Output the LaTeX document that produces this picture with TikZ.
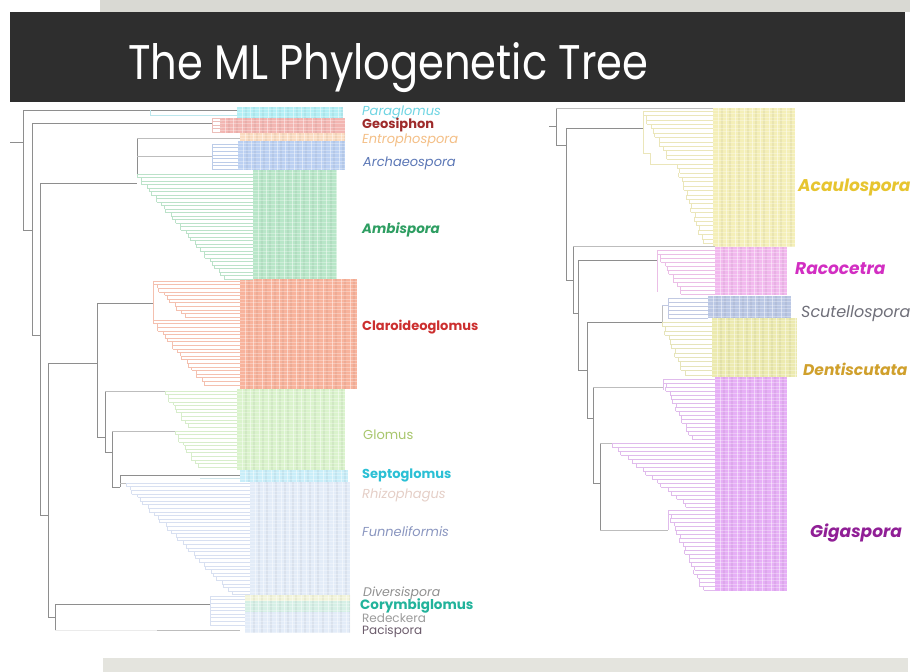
\documentclass[tikz,border=0pt]{standalone}
\usepackage{fontspec}
\usepackage{graphicx}
\setmainfont{Poppins}
\newfontfamily\labfont{Poppins}
\newcommand{\labsz}[1]{\labfont\fontsize{#1}{#1}\selectfont}

\definecolor{topband}{HTML}{D9D9D3}
\definecolor{botband}{HTML}{E4E4DE}
\definecolor{titlebar}{HTML}{2E2E2E}
\definecolor{treegray}{HTML}{8E8E8E}
\definecolor{treelight}{HTML}{BDBDBD}
% label colours
\definecolor{cPara}{HTML}{6FD5E3}
\definecolor{cGeo}{HTML}{9E2B2B}
\definecolor{cEntro}{HTML}{F4BF86}
\definecolor{cArch}{HTML}{5B77B6}
\definecolor{cAmbi}{HTML}{2E9E62}
\definecolor{cClaro}{HTML}{CC2F2F}
\definecolor{cGlom}{HTML}{A8C66C}
\definecolor{cSept}{HTML}{2BC0D5}
\definecolor{cRhiz}{HTML}{E5CFC7}
\definecolor{cFunn}{HTML}{8A96C0}
\definecolor{cDiv}{HTML}{909090}
\definecolor{cCory}{HTML}{22B39B}
\definecolor{cRed}{HTML}{9C9C9C}
\definecolor{cPac}{HTML}{6B5B6B}
\definecolor{cAcau}{HTML}{E7C530}
\definecolor{cRaco}{HTML}{D22EC2}
\definecolor{cScut}{HTML}{6F6F79}
\definecolor{cDent}{HTML}{D0A02C}
\definecolor{cGiga}{HTML}{901F96}
% block fills
\definecolor{fPara}{HTML}{B3EFF5}
\definecolor{fGeo}{HTML}{F3B6B2}
\definecolor{fEntro}{HTML}{FBDCC1}
\definecolor{fArch}{HTML}{BBD0F2}
\definecolor{fAmbi}{HTML}{B8E6C8}
\definecolor{fClaro}{HTML}{F8B39C}
\definecolor{fGlom}{HTML}{DAF3CC}
\definecolor{fSept}{HTML}{C9EEF9}
\definecolor{fFunn}{HTML}{E3ECF8}
\definecolor{fDiv}{HTML}{F2F4DA}
\definecolor{fCory}{HTML}{D6F0E6}
\definecolor{fAcau}{HTML}{F4EFB8}
\definecolor{fRaco}{HTML}{F2B9EE}
\definecolor{fScut}{HTML}{BAC7E4}
\definecolor{fDent}{HTML}{ECEAAF}
\definecolor{fGiga}{HTML}{E6AFF6}
% tinted branch colours
\definecolor{tPara}{HTML}{9FDDE6}
\definecolor{tGeo}{HTML}{E4A39D}
\definecolor{tArch}{HTML}{9FB6DE}
\definecolor{tAmbi}{HTML}{9ED6B2}
\definecolor{tClaro}{HTML}{EFA58C}
\definecolor{tGlom}{HTML}{C6E5B5}
\definecolor{tFunn}{HTML}{C7D3EB}
\definecolor{tAcau}{HTML}{E3DB9C}
\definecolor{tRaco}{HTML}{E3A2DC}
\definecolor{tScut}{HTML}{A6B2D6}
\definecolor{tDent}{HTML}{DCD89C}
\definecolor{tGiga}{HTML}{D39EE4}

% caterpillar comb: x0, y0, dx, dy, n, xend, style
\newcommand{\combtree}[7]{%
  \foreach \ci in {0,...,#5}{%
    \pgfmathsetmacro{\cxa}{#1+\ci*#3+1.5*sin(\ci*137)}%
    \pgfmathsetmacro{\cxp}{#1+max(\ci-1,0)*#3+1.5*sin(max(\ci-1,0)*137)}%
    \pgfmathsetmacro{\cya}{#2+\ci*#4}%
    \pgfmathsetmacro{\cyb}{#2+(\ci+1)*#4}%
    \draw[#7] (\cxp,\cya) -- (#6,\cya);%
    \ifnum\ci<#5\relax \draw[#7] (\cxa,\cya) -- (\cxa,\cyb);\fi
  }}
% fan: x, y0, dy, n, xend, style
\newcommand{\fantree}[6]{%
  \pgfmathsetmacro{\fyb}{#2+#4*#3}%
  \draw[#6] (#1,#2) -- (#1,\fyb);%
  \foreach \fk in {0,...,#4}{%
    \pgfmathsetmacro{\fya}{#2+\fk*#3}%
    \draw[#6] (#1,\fya) -- (#5,\fya);%
  }}
% shaded clade block: x1, y1, x2, y2, colour
\newcommand{\cladeblock}[5]{%
  \begin{scope}
    \clip (#1,#2) rectangle (#3,#4);
    \fill[#5] (#1,#2) rectangle (#3,#4);
    \foreach \sx in {9,17,26,35,43,51,60,68,78,87,96,105,114}
      \draw[#5!70!black, opacity=.14, line width=1.1pt] (#1+\sx,#2) -- (#1+\sx,#4);
    \foreach \sx in {5,13,22,31,39,47,56,64,73,83,92,101,110}
      \draw[white, opacity=.45, line width=.7pt] (#1+\sx,#2) -- (#1+\sx,#4);
    \foreach \sy in {1.8,5.4,...,240}
      \draw[white, opacity=.3, line width=.4pt] (#1,#2+\sy) -- (#3,#2+\sy);
  \end{scope}}

\begin{document}
\begin{tikzpicture}[x=1pt,y=-1pt,
  bb/.style={draw=treegray, line width=.8pt},
  tg/.style={draw=treelight, line width=.5pt},
  tint/.style={draw=#1!70!white, line width=.5pt},
  lab/.style={anchor=west, inner sep=0pt}]
\useasboundingbox (0,0) rectangle (922,672);
\fill[white] (0,0) rectangle (922,672);

% ---------- slide frame ----------
\fill[topband] (100,0) rectangle (910,12);
\fill[titlebar] (10,12) rectangle (905,102);
\node[anchor=base west, inner sep=0pt, text=white] (title) at (128,79)
  {\resizebox{520pt}{37pt}{\fontsize{52}{52}\selectfont The ML Phylogenetic Tree}};
\fill[botband] (103,658) rectangle (908,672);

% ---------- left tree: clade blocks ----------
\cladeblock{237}{107}{343}{118}{fPara}
\cladeblock{220}{118}{345}{133}{fGeo}
\cladeblock{240}{133}{345}{141}{fEntro}
\cladeblock{238}{141}{345}{170}{fArch}
\cladeblock{253}{170}{337}{279}{fAmbi}
\cladeblock{240}{279}{357}{389}{fClaro}
\cladeblock{237}{389}{345}{470}{fGlom}
\cladeblock{240}{470}{348}{482}{fSept}
\cladeblock{250}{482}{350}{595}{fFunn}
\cladeblock{245}{595}{350}{601}{fDiv}
\cladeblock{245}{601}{350}{612}{fCory}
\cladeblock{245}{612}{350}{633}{fFunn}

% ---------- left tree: backbone ----------
\draw[bb] (10,142) -- (23,142);
\draw[bb] (23,110) -- (23,230);
\draw[bb] (23,110) -- (237,110);
\draw[tint=tPara] (150,110) -- (150,115) -- (237,115);
\draw[bb] (23,230) -- (32,230);
\draw[bb] (32,123) -- (32,335);
\draw[bb] (32,123) -- (212,123);
\draw[bb] (32,335) -- (40,335);
\draw[bb] (40,183) -- (40,515);
\draw[bb] (40,183) -- (137,183);
\draw[bb] (137,138) -- (137,174);
\draw[tg] (137,138) -- (240,138);
\draw[tg] (137,156) -- (212,156);
\draw[bb] (40,515) -- (48,515);
\draw[bb] (48,363) -- (48,617);
\draw[bb] (48,617) -- (55,617);
\draw[bb] (55,604) -- (55,630);
\draw[bb] (48,363) -- (97,363);
\draw[bb] (97,303) -- (97,437);
\draw[bb] (97,303) -- (153,303);
\draw[tint=tClaro] (153,281) -- (153,320);
\draw[bb] (97,437) -- (105,437);
\draw[bb] (105,391) -- (105,452);
\draw[tg] (105,391) -- (165,391);
\draw[bb] (105,452) -- (112,452);
\draw[bb] (112,431) -- (112,487);
\draw[tg] (112,431) -- (175,431);
\draw[bb] (112,487) -- (120,487);
\draw[bb] (120,475) -- (120,487);
\draw[bb] (120,475) -- (240,475);
\draw[tint=fSept!80!gray] (200,478.5) -- (240,478.5);
\draw[tg] (120,483) -- (126,483);
\draw[bb] (55,604) -- (210,604);
\draw[draw=black!8, line width=.5pt] (55,630) -- (157,630);
\draw[tg] (157,630) -- (240,630);

% ---------- left tree: clades ----------
\fantree{212}{118}{3.5}{4}{222}{tint=tGeo}
\fantree{212}{144}{3.6}{7}{238}{tint=tArch}
\combtree{137}{174}{3}{3.5}{30}{253}{tint=tAmbi}
\combtree{153}{281}{3.5}{3.6}{10}{240}{tint=tClaro}
\combtree{153}{320}{3}{3.6}{18}{240}{tint=tClaro}
\combtree{165}{391}{2.5}{3.6}{10}{237}{tint=tGlom}
\combtree{175}{431}{2.5}{3.6}{10}{237}{tint=tGlom}
\combtree{126}{483}{3.5}{3.6}{31}{250}{tint=tFunn}
\fantree{210}{596}{3.6}{8}{245}{tint=tFunn}

% ---------- left labels ----------
\node[lab, text=cPara]  (lPara)  at (362,112) {\labsz{13}\itshape Paraglomus};
\node[lab, text=cGeo]   (lGeo)   at (362,125) {\labsz{13}\bfseries Geosiphon};
\node[lab, text=cEntro] (lEntro) at (362,140) {\labsz{13}\itshape Entrophospora};
\node[lab, text=cArch]  (lArch)  at (363,163) {\labsz{13}\itshape Archaeospora};
\node[lab, text=cAmbi]  (lAmbi)  at (362,230) {\labsz{13.5}\bfseries\itshape Ambispora};
\node[lab, text=cClaro] (lClaro) at (362,327) {\labsz{13}\bfseries Claroideoglomus};
\node[lab, text=cGlom]  (lGlom)  at (363,435) {\labsz{13}Glomus};
\node[lab, text=cSept]  (lSept)  at (362,475) {\labsz{13}\bfseries Septoglomus};
\node[lab, text=cRhiz]  (lRhiz)  at (362,495) {\labsz{13}\itshape Rhizophagus};
\node[lab, text=cFunn]  (lFunn)  at (362,532) {\labsz{13}\itshape Funneliformis};
\node[lab, text=cDiv]   (lDiv)   at (363,593) {\labsz{12.5}\itshape Diversispora};
\node[lab, text=cCory]  (lCory)  at (360,606) {\labsz{13.5}\bfseries Corymbiglomus};
\node[lab, text=cRed]   (lRed)   at (362,618.5) {\labsz{12}Redeckera};
\node[lab, text=cPac]   (lPac)   at (362,631) {\labsz{12}Pacispora};

% ---------- right tree: clade blocks ----------
\cladeblock{713}{108}{795}{247}{fAcau}
\cladeblock{715}{247}{787}{295}{fRaco}
\cladeblock{708}{296}{791}{318}{fScut}
\cladeblock{712}{318}{797}{377}{fDent}
\cladeblock{715}{377}{787}{591}{fGiga}

% ---------- right tree: backbone ----------
\draw[bb] (549,126) -- (556,126);
\draw[bb] (556,108) -- (556,145);
\draw[tg] (556,108) -- (713,108);
\draw[bb] (556,145) -- (566,145);
\draw[bb] (566,128) -- (566,280);
\draw[bb] (566,128) -- (643,128);
\draw[tint=tAcau] (643,111) -- (643,153);
\draw[tint=tAcau] (643,153) -- (650,153) -- (650,164) -- (677,164);
\draw[bb] (566,280) -- (573,280);
\draw[bb] (573,246) -- (573,313);
\draw[tg] (573,246) -- (715,246);
\draw[bb] (573,313) -- (578,313);
\draw[bb] (578,260) -- (578,370);
\draw[bb] (578,260) -- (657,260);
\draw[tint=tRaco] (657,250) -- (657,292);
\draw[bb] (578,370) -- (587,370);
\draw[bb] (587,322) -- (587,418);
\draw[bb] (587,322) -- (662,322);
\draw[tg] (662,305) -- (662,322);
\draw[tint=tScut] (662,305) -- (668,305);
\draw[bb] (587,418) -- (593,418);
\draw[bb] (593,387) -- (593,483);
\draw[tg] (593,387) -- (663,387);
\draw[tint=tGiga] (663,379) -- (663,390);
\draw[bb] (593,483) -- (600,483);
\draw[bb] (600,443) -- (600,530);
\draw[tg] (600,443) -- (612,443);
\draw[tg] (600,530) -- (668,530);
\draw[tint=tGiga] (668,510) -- (668,530);

% ---------- right tree: clades ----------
\combtree{643}{111}{2.5}{4.4}{11}{713}{tint=tAcau}
\combtree{677}{164}{1.5}{4.4}{18}{713}{tint=tAcau}
\combtree{657}{250}{2.5}{4}{11}{715}{tint=tRaco}
\fantree{668}{298}{4}{5}{708}{tint=tScut}
\combtree{662}{322}{2}{4.4}{12}{712}{tint=tDent}
\combtree{663}{379}{2}{4}{15}{715}{tint=tGiga}
\combtree{612}{443}{5}{4}{16}{715}{tint=tGiga}
\combtree{668}{510}{1.8}{4}{20}{715}{tint=tGiga}

% ---------- right labels ----------
\node[lab, text=cAcau] (lAcau) at (798,187) {\labsz{17}\bfseries\itshape Acaulospora};
\node[lab, text=cRaco] (lRaco) at (795,269) {\labsz{17}\bfseries\itshape Racocetra};
\node[lab, text=cScut] (lScut) at (801,314) {\labsz{16}\itshape Scutellospora};
\node[lab, text=cDent] (lDent) at (803,369) {\labsz{15.5}\bfseries\itshape Dentiscutata};
\node[lab, text=cGiga] (lGiga) at (810,533) {\labsz{17}\bfseries\itshape Gigaspora};
\end{tikzpicture}
\end{document}
